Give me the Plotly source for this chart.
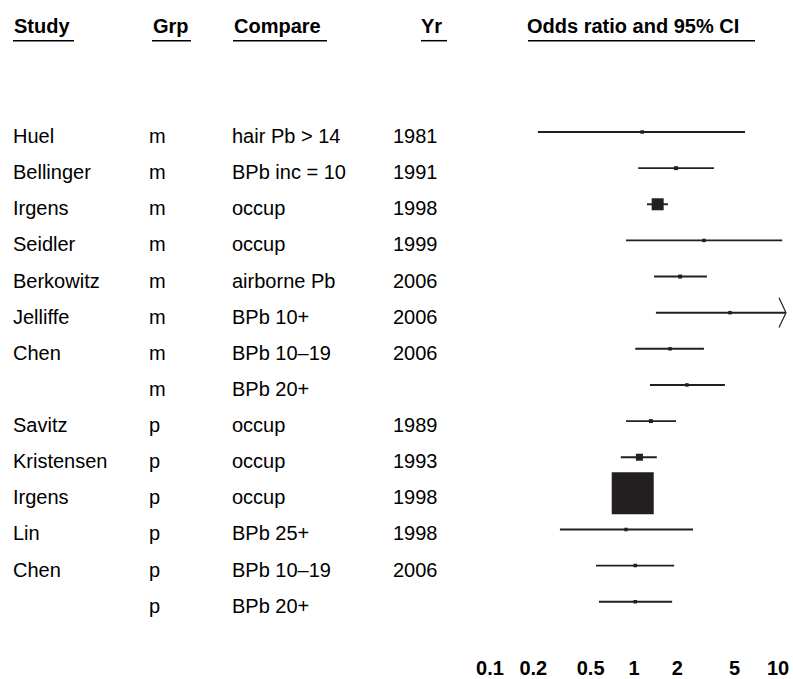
import plotly.graph_objects as go
import math

# ---------------- data ----------------
studies  = ["Huel", "Bellinger", "Irgens", "Seidler", "Berkowitz", "Jelliffe", "Chen", "",
            "Savitz", "Kristensen", "Irgens", "Lin", "Chen", ""]
groups   = ["m", "m", "m", "m", "m", "m", "m", "m", "p", "p", "p", "p", "p", "p"]
compares = ["hair Pb > 14", "BPb inc = 10", "occup", "occup", "airborne Pb", "BPb 10+",
            "BPb 10–19", "BPb 20+", "occup", "occup", "occup", "BPb 25+", "BPb 10–19", "BPb 20+"]
years    = ["1981", "1991", "1998", "1999", "2006", "2006", "2006", "",
            "1989", "1993", "1998", "1998", "2006", ""]
odds     = [1.14, 1.96, 1.46, 3.06, 2.09, 4.64, 1.78, 2.33, 1.31, 1.09, 0.98, 0.88, 1.02, 1.02]
ci_low   = [0.215, 1.07, 1.23, 0.88, 1.38, 1.42, 1.02, 1.29, 0.88, 0.81, 0.86, 0.306, 0.545, 0.571]
ci_high  = [5.9, 3.59, 1.72, 10.7, 3.21, 14.0, 3.06, 4.28, 1.96, 1.44, 1.12, 2.57, 1.90, 1.84]
weights  = [0.5, 0.9, 8.2, 0.5, 0.9, 0.5, 0.5, 0.5, 0.9, 2.8, 100.0, 0.5, 0.5, 0.5]

headers     = ["Study", "Grp", "Compare", "Yr", "Odds ratio and 95% CI"]
tick_values = [0.1, 0.2, 0.5, 1, 2, 5, 10]
tick_labels = ["0.1", "0.2", "0.5", "1", "2", "5", "10"]

# ---------------- layout constants (pixels) ----------------
W, H = 793, 679
PX_ONE, PX_DEC = 634, 144          # x pixel of OR=1, pixels per decade
PLOT_L, PLOT_R = 466, 793
ROW0, ROW_STEP = 133, 36.4
AXIS_BOTTOM = 659
TEXT_DROP = 4                       # text sits slightly below the CI lines
FONT = "Liberation Sans, Arial, sans-serif"
INK = "#231f20"

x_lo = (PLOT_L - PX_ONE) / PX_DEC
x_hi = (PLOT_R - PX_ONE) / PX_DEC
clip_max = 10 ** ((786 - PX_ONE) / PX_DEC)   # arrow tip location
clip_back = 10 ** ((779 - PX_ONE) / PX_DEC)

def row_y(py):
    return -(py - ROW0) / ROW_STEP

y_top = row_y(0)
y_bot = row_y(AXIS_BOTTOM)

n = len(odds)
ys = [-i for i in range(n)]

fig = go.Figure()

# CI lines
lx, ly = [], []
arrows_x, arrows_y = [], []
for i in range(n):
    hi = ci_high[i]
    if hi > clip_max:
        hi = clip_max
        arrows_x += [clip_back, clip_max, clip_back, None]
        arrows_y += [ys[i] + 15 / ROW_STEP, ys[i], ys[i] - 15 / ROW_STEP, None]
    lx += [ci_low[i], hi, None]
    ly += [ys[i], ys[i], None]

fig.add_trace(go.Scatter(x=lx, y=ly, mode="lines", line=dict(color=INK, width=1.9),
                         hoverinfo="skip", showlegend=False))
fig.add_trace(go.Scatter(x=arrows_x, y=arrows_y, mode="lines", line=dict(color=INK, width=1.2),
                         hoverinfo="skip", showlegend=False))

# squares sized by weight (area proportional)
wmax = max(weights)
sizes = [max(3.5, 42 * math.sqrt(w / wmax)) for w in weights]
fig.add_trace(go.Scatter(x=odds, y=ys, mode="markers",
                         marker=dict(symbol="square", size=sizes, color=INK, opacity=1,
                                     line=dict(width=0)),
                         showlegend=False))

# text columns
cols = [(11, studies), (147, groups), (230, compares), (391, years)]
annotations = []
for px, vals in cols:
    for i, t in enumerate(vals):
        if t:
            annotations.append(dict(x=px / W, xref="paper", y=ys[i] - TEXT_DROP / ROW_STEP,
                                    yref="y", text=t,
                                    xanchor="left", yanchor="middle", showarrow=False,
                                    font=dict(family=FONT, size=20, color="#000")))

# headers with underlines
head_py = 26
under_py = 41
head_x = [12, 151, 232, 419, 525]
under_ext = [(13, 74), (152, 191), (233, 327), (421, 447), (528, 755)]
shapes = []
for txt, px, (u0, u1) in zip(headers, head_x, under_ext):
    annotations.append(dict(x=px / W, xref="paper", y=row_y(head_py), yref="y",
                            text="<b>" + txt + "</b>", xanchor="left", yanchor="middle",
                            showarrow=False, font=dict(family=FONT, size=20, color="#000")))
    shapes.append(dict(type="line", xref="paper", yref="y", x0=u0 / W, x1=u1 / W,
                       y0=row_y(under_py), y1=row_y(under_py), line=dict(color="#000", width=1.5)))

fig.update_layout(
    width=W, height=H,
    margin=dict(l=0, r=0, t=0, b=0),
    paper_bgcolor="white", plot_bgcolor="white",
    annotations=annotations, shapes=shapes,
    xaxis=dict(type="log", range=[x_lo, x_hi], domain=[PLOT_L / W, PLOT_R / W],
               tickvals=tick_values, ticktext=["<b>" + t + "</b>" for t in tick_labels],
               showgrid=False, zeroline=False, showline=False, ticks="",
               tickfont=dict(family=FONT, size=20, color="#000")),
    yaxis=dict(range=[y_bot, y_top], domain=[(H - AXIS_BOTTOM) / H, 1], visible=False,
               showgrid=False, zeroline=False),
)

fig.write_html("out.html", config={"displayModeBar": False},
               post_script="document.body.style.margin='0px';document.body.style.overflow='hidden';")
